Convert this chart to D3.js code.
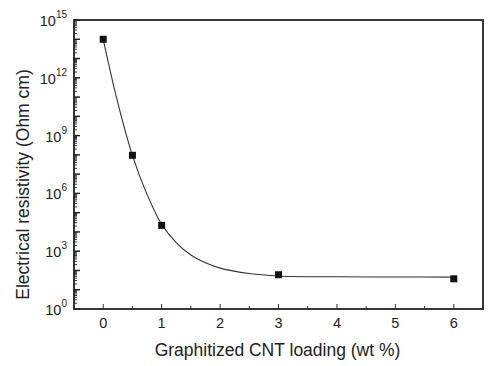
<!DOCTYPE html>
<html lang="en">
<head>
    <meta charset="UTF-8">
    <title>Resistivity vs CNT loading</title>
    <script src="https://d3js.org/d3.v7.min.js"></script>
    <style>
        body { margin: 0; background: #fff; }
        svg { display: block; font-family: "Liberation Sans", Arial, sans-serif; }
        .frame { fill: none; stroke: #222; stroke-width: 1.8px; }
        .tick-label { font-size: 14.5px; fill: #222; }
        .title { font-size: 17.5px; fill: #222; text-anchor: middle; }
    </style>
</head>
<body>
    <svg width="500" height="366"></svg>
    <script>
        // measured points
        const loading = [0, 0.5, 1, 3, 6];
        const resistivity = [1e14, 9.5e7, 2.2e4, 60, 37];

        // fitted curve
        const fitLoading = [0, 0.25, 0.5, 0.75, 1, 1.25, 1.5, 1.75, 2, 2.5, 3, 4, 5, 6];
        const fitResistivity = [1e14, 5e10, 9.5e7, 8.9e5, 2.5e4, 2.8e3, 630, 250, 132, 69, 52, 47, 46, 45];

        const xTicks = [0, 1, 2, 3, 4, 5, 6];
        const yLabelExps = [0, 3, 6, 9, 12, 15];

        const margin = { top: 20, right: 17, bottom: 57, left: 74 };
        const width = 500, height = 366;
        const svg = d3.select("svg");

        const x = d3.scaleLinear().domain([-0.5, 6.5]).range([margin.left, width - margin.right]);
        const y = d3.scaleLog().domain([1, 1e15]).range([height - margin.bottom, margin.top]);

        const g = svg.append("g");

        // x ticks (inward), integers long, halves short
        const xAll = d3.range(-0.5, 6.51, 0.5);
        g.selectAll(".xt").data(xAll).enter().append("line")
            .attr("x1", d => x(d)).attr("x2", d => x(d))
            .attr("y1", y(1)).attr("y2", d => y(1) - (Number.isInteger(d) ? 5 : 3))
            .attr("stroke", "#333").attr("stroke-width", 1);

        g.selectAll(".xl").data(xTicks).enter().append("text")
            .attr("class", "tick-label")
            .attr("x", d => x(d)).attr("y", y(1) + 19)
            .attr("text-anchor", "middle")
            .text(d => d);

        // y ticks: decades + minor 2..9
        const yMajor = d3.range(0, 16).map(e => Math.pow(10, e));
        const yMinor = [];
        for (let e = 0; e < 15; e++) for (let m = 2; m <= 9; m++) yMinor.push(m * Math.pow(10, e));

        g.selectAll(".ymin").data(yMinor).enter().append("line")
            .attr("x1", x(-0.5)).attr("x2", x(-0.5) + 3)
            .attr("y1", d => y(d)).attr("y2", d => y(d))
            .attr("stroke", "#333").attr("stroke-width", 1);
        g.selectAll(".ymaj").data(yMajor).enter().append("line")
            .attr("x1", x(-0.5)).attr("x2", x(-0.5) + 6)
            .attr("y1", d => y(d)).attr("y2", d => y(d))
            .attr("stroke", "#222").attr("stroke-width", 1.5);

        const yl = g.selectAll(".yl").data(yLabelExps).enter().append("text")
            .attr("class", "tick-label")
            .attr("x", x(-0.5) - 7).attr("y", d => y(Math.pow(10, d)) + 6)
            .attr("text-anchor", "end");
        yl.append("tspan").text("10");
        yl.append("tspan").attr("dy", -8).style("font-size", "10px").text(d => d);

        // frame
        g.append("rect").attr("class", "frame")
            .attr("x", margin.left).attr("y", margin.top)
            .attr("width", width - margin.left - margin.right)
            .attr("height", height - margin.top - margin.bottom);

        // fitted curve
        const fit = fitLoading.map((v, i) => [v, fitResistivity[i]]);
        g.append("path").datum(fit)
            .attr("fill", "none").attr("stroke", "#333").attr("stroke-width", 1.1)
            .attr("d", d3.line().x(d => x(d[0])).y(d => y(d[1])).curve(d3.curveCatmullRom.alpha(0.5)));

        // markers
        const pts = loading.map((v, i) => [v, resistivity[i]]);
        g.selectAll(".pt").data(pts).enter().append("rect")
            .attr("x", d => x(d[0]) - 3.5).attr("y", d => y(d[1]) - 3.5)
            .attr("width", 7).attr("height", 7).attr("fill", "#111");

        // axis titles
        svg.append("text").attr("class", "title")
            .attr("x", (margin.left + width - margin.right) / 2 - 1).attr("y", 356)
            .text("Graphitized CNT loading (wt %)");
        svg.append("text").attr("class", "title")
            .attr("transform", `translate(29, ${(margin.top + height - margin.bottom) / 2 + 20}) rotate(-90)`)
            .text("Electrical resistivity (Ohm cm)");
    </script>
</body>
</html>
